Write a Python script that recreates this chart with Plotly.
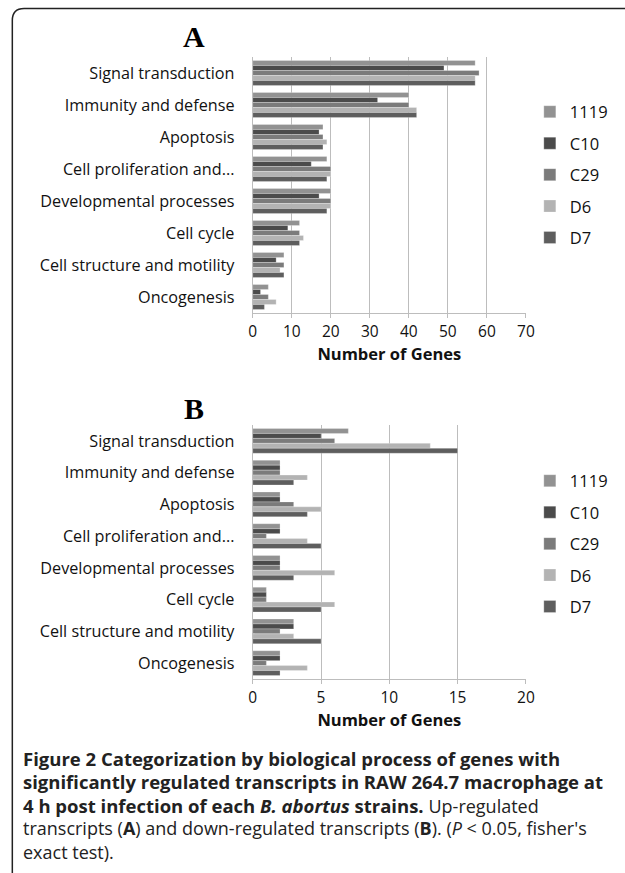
import plotly.graph_objects as go

categories = ["Signal transduction", "Immunity and defense", "Apoptosis",
              "Cell proliferation and...", "Developmental processes", "Cell cycle",
              "Cell structure and motility", "Oncogenesis"]
strains = ["1119", "C10", "C29", "D6", "D7"]

# Panel A: up-regulated
up_1119 = [57, 40, 18, 19, 20, 12, 8, 4]
up_C10 = [49, 32, 17, 15, 17, 9, 6, 2]
up_C29 = [58, 40, 18, 20, 20, 12, 8, 4]
up_D6 = [57, 42, 19, 20, 20, 13, 7, 6]
up_D7 = [57, 42, 18, 19, 19, 12, 8, 3]

# Panel B: down-regulated
down_1119 = [7, 2, 2, 2, 2, 1, 3, 2]
down_C10 = [5, 2, 2, 2, 2, 1, 3, 2]
down_C29 = [6, 2, 3, 1, 2, 1, 2, 1]
down_D6 = [13, 4, 5, 4, 6, 6, 3, 4]
down_D7 = [15, 3, 4, 5, 3, 5, 5, 2]

xticks_A = [0, 10, 20, 30, 40, 50, 60, 70]
xticks_B = [0, 5, 10, 15, 20]

colors = ["#929292", "#4b4b4b", "#7b7b7b", "#b3b3b3", "#5e5e5e"]

up = [up_1119, up_C10, up_C29, up_D6, up_D7]
down = [down_1119, down_C10, down_C29, down_D6, down_D7]

W, H = 625, 873
fig = go.Figure()

for i, s in enumerate(strains):
    fig.add_trace(go.Bar(
        y=categories, x=up[i], name=s, orientation="h",
        marker=dict(color=colors[i], line=dict(color="rgba(255,255,255,0.5)", width=0.5)),
        xaxis="x", yaxis="y", legend="legend", legendgroup="A" + s,
    ))
for i, s in enumerate(strains):
    fig.add_trace(go.Bar(
        y=categories, x=down[i], name=s, orientation="h",
        marker=dict(color=colors[i], line=dict(color="rgba(255,255,255,0.5)", width=0.5)),
        xaxis="x2", yaxis="y2", legend="legend2", legendgroup="B" + s,
    ))

def px_x(v):
    return v / W

def px_y(v):
    return 1 - v / H

FONT = "Open Sans, sans-serif"
tickfont = dict(family=FONT, size=16.2, color="#111")
xaxis_common = dict(
    showgrid=True, gridcolor="#bdbdbd", gridwidth=1,
    showline=True, linecolor="#bdbdbd", linewidth=1,
    ticks="outside", ticklen=4, tickcolor="#bdbdbd",
    tickfont=dict(family=FONT, size=15.5, color="#111"),
    zeroline=False, fixedrange=True,
)
yaxis_common = dict(
    autorange="reversed", showline=True, linecolor="#bdbdbd", linewidth=1,
    ticks="", tickfont=tickfont, ticklabelstandoff=14, fixedrange=True,
)
legend_common = dict(
    xanchor="left", yanchor="top", traceorder="grouped", tracegroupgap=7,
    itemwidth=30, font=dict(family=FONT, size=16.5, color="#111"),
    bgcolor="rgba(0,0,0,0)",
)

fig.update_layout(
    width=W, height=H,
    margin=dict(l=0, r=0, t=0, b=0),
    paper_bgcolor="white", plot_bgcolor="white",
    barmode="group", bargap=0.22, bargroupgap=0,
    xaxis=dict(domain=[px_x(254), px_x(533)], range=[0, 70], tickvals=xticks_A,
               anchor="y",
               title=dict(text="<b>Number of Genes</b>", standoff=4,
                          font=dict(family=FONT, size=16.5, color="#111")),
               **xaxis_common),
    yaxis=dict(domain=[px_y(313), px_y(57)], anchor="x", **yaxis_common),
    xaxis2=dict(domain=[px_x(254), px_x(533)], range=[0, 20], tickvals=xticks_B,
                anchor="y2",
                title=dict(text="<b>Number of Genes</b>", standoff=4,
                           font=dict(family=FONT, size=16.5, color="#111")),
                **xaxis_common),
    yaxis2=dict(domain=[px_y(679), px_y(425)], anchor="x2", **yaxis_common),
    legend=dict(x=px_x(537), y=px_y(94.5), **legend_common),
    legend2=dict(x=px_x(537), y=px_y(463.5), **legend_common),
    showlegend=True,
)

# Panel letters
for letter, yc in [("A", 37), ("B", 408)]:
    fig.add_annotation(text="<b>%s</b>" % letter, xref="paper", yref="paper",
                       x=px_x(194), y=px_y(yc), xanchor="center", yanchor="middle",
                       showarrow=False,
                       font=dict(family="Liberation Serif, serif", size=30, color="#000"))

# Caption
R = '<span style="font-size:18px">%s</span>'
caption_lines = [
    "<b>Figure 2 Categorization by biological process of genes with</b>",
    "<b>significantly regulated transcripts in RAW 264.7 macrophage at</b>",
    "<b>4 h post infection of each <i>B. abortus</i> strains.</b> " + R % "Up-regulated",
    R % "transcripts (<b>A</b>) and down-regulated transcripts (<b>B</b>). (<i>P</i> &lt; 0.05, fisher's",
    R % "exact test).",
]
caption_y = [758, 781, 805, 828, 852]
for line, yc in zip(caption_lines, caption_y):
    fig.add_annotation(text=line, xref="paper", yref="paper",
                       x=px_x(17), y=px_y(yc), xanchor="left", yanchor="middle",
                       showarrow=False, align="left",
                       font=dict(family=FONT, size=18.5, color="#222"))

# Rounded frame (top-left corner)
x0, y0, r = px_x(8.5), px_y(8.5), 12
fig.add_shape(type="path", xref="paper", yref="paper",
              path="M %f,%f L %f,%f Q %f,%f %f,%f L %f,%f" % (
                  x0, 0, x0, px_y(8.5 + r), x0, y0, px_x(8.5 + r), y0, 1.02, y0),
              line=dict(color="#222", width=1.5))

fig.write_html("out.html", config={"displayModeBar": False},
               post_script="document.body.style.margin='0';document.body.style.overflow='hidden';")
